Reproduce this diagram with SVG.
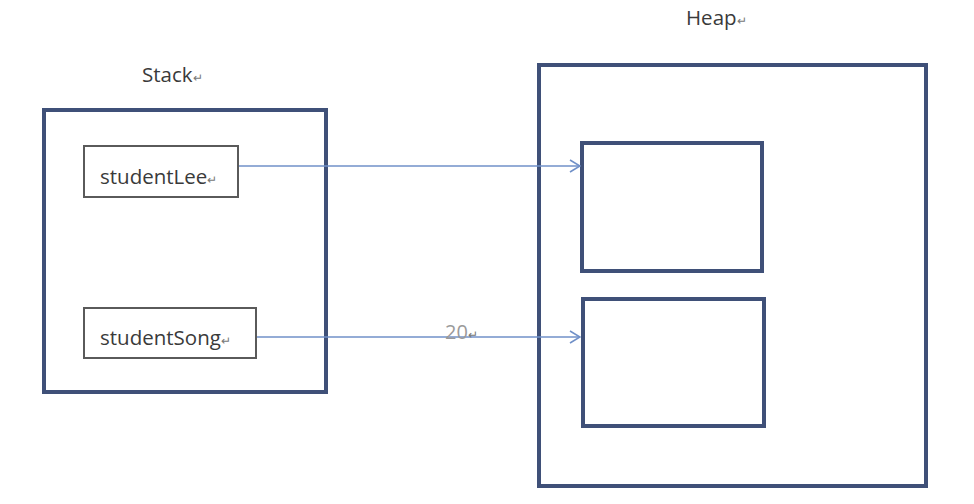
<svg xmlns="http://www.w3.org/2000/svg" width="974" height="504" viewBox="0 0 974 504">
<style>
.big{fill:none;stroke:#3f5078;stroke-width:4}
.var{fill:#fff;stroke:#5a5a5a;stroke-width:2}
.lbl{font-family:"Open Sans","Liberation Sans",sans-serif;font-size:20.5px;fill:#3a3a3a}
.ret{font-size:12px;fill:#777}
.conn{stroke:#7090c8;stroke-width:1.6;fill:none}
.num{font-family:"Open Sans","Liberation Sans",sans-serif;font-size:20px;fill:#9a9a9a}
</style>
<defs>
<marker id="arr" markerWidth="12" markerHeight="14" refX="11" refY="7" orient="auto" markerUnits="userSpaceOnUse">
<path d="M1,1 L11,7 L1,13" fill="none" stroke="#7090c8" stroke-width="1.6"/>
</marker>
</defs>
<rect width="974" height="504" fill="#fff"/>
<g id="stack">
<text class="lbl" x="142" y="82">Stack<tspan class="ret">↵</tspan></text>
<rect class="big" x="44" y="110" width="282" height="282"/>
</g>
<g id="heap">
<text class="lbl" x="686" y="25">Heap<tspan class="ret">↵</tspan></text>
<rect class="big" x="539" y="65" width="387" height="421"/>
</g>
<g id="studentLee">
<rect class="var" x="84" y="146" width="154" height="51"/>
<text class="lbl" x="100" y="184">studentLee<tspan class="ret">↵</tspan></text>
</g>
<g id="studentSong">
<rect class="var" x="84" y="308" width="172" height="50"/>
<text class="lbl" x="100" y="345">studentSong<tspan class="ret">↵</tspan></text>
</g>
<g id="obj1">
<rect class="big" x="582" y="143" width="180" height="128"/>
</g>
<g id="obj2">
<rect class="big" x="583" y="299" width="181" height="127"/>
</g>
<g id="connectors">
<line class="conn" x1="239" y1="166" x2="580" y2="166" marker-end="url(#arr)"/>
<line class="conn" x1="257" y1="337" x2="580" y2="337" marker-end="url(#arr)"/>
<text class="num" x="445" y="339">20<tspan class="ret">↵</tspan></text>
</g>
</svg>
